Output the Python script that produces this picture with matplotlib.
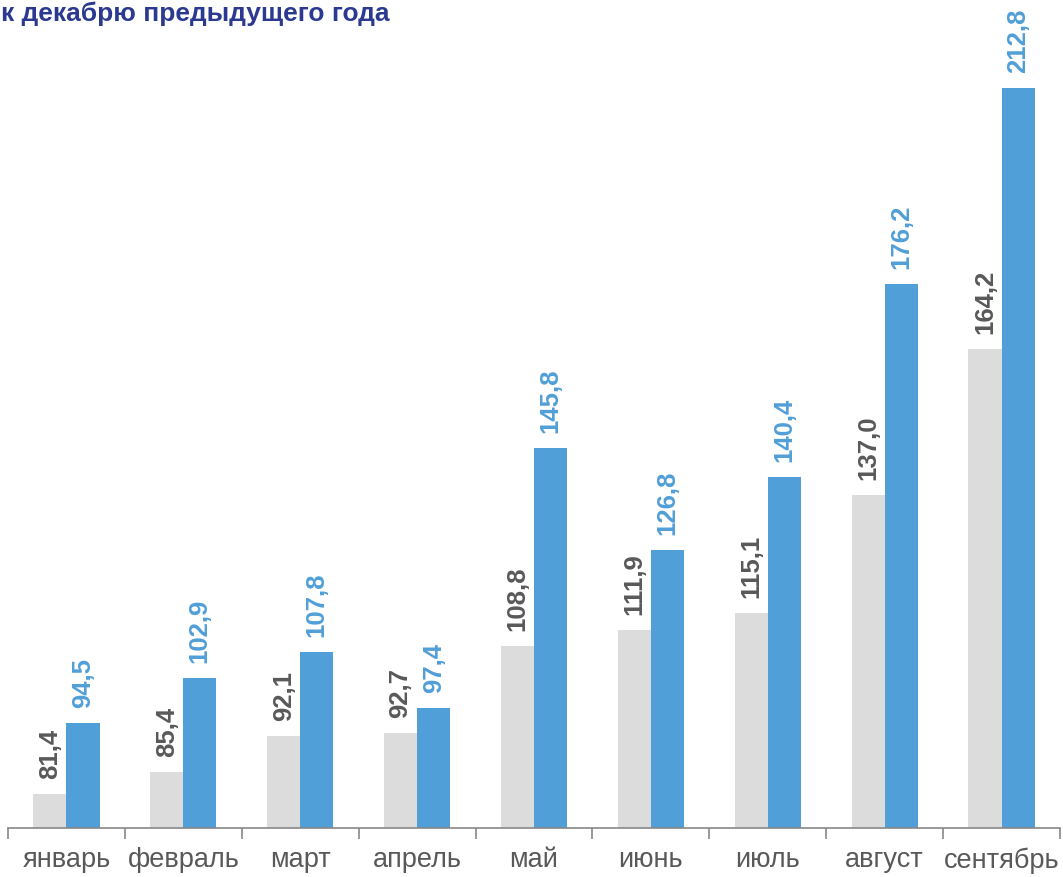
import matplotlib
matplotlib.use("Agg")
import matplotlib.pyplot as plt
import numpy as np

months = ["январь", "февраль", "март", "апрель", "май", "июнь", "июль", "август", "сентябрь"]
prev_year = [81.4, 85.4, 92.1, 92.7, 108.8, 111.9, 115.1, 137.0, 164.2]
curr_year = [94.5, 102.9, 107.8, 97.4, 145.8, 126.8, 140.4, 176.2, 212.8]
title = "к декабрю предыдущего года"

plt.rcParams['font.family'] = ['Liberation Sans', 'DejaVu Sans']

W, H = 1063, 877
fig = plt.figure(figsize=(W/100, H/100), dpi=100)
ax = fig.add_axes([8/W, (H-828)/H, (1060-8)/W, 828/H])

x = np.arange(len(months))
bw = 0.283
gray = "#DCDCDC"
blue = "#519FD8"
ax.bar(x - bw/2, prev_year, bw, color=gray)
ax.bar(x + bw/2, curr_year, bw, color=blue)
ax.set_ylim(75, 229.1)
ax.set_xlim(-0.5, len(months) - 0.5)

def fmt(v):
    return f"{v:.1f}".replace(".", ",")

for xi, v in zip(x, prev_year):
    ax.annotate(fmt(v), (xi - bw/2, v), xytext=(0, 15), textcoords="offset pixels",
                rotation=90, ha="center", va="bottom", fontsize=18.5, fontweight="bold", color="#595959")
for xi, v in zip(x, curr_year):
    ax.annotate(fmt(v), (xi + bw/2, v), xytext=(0, 15), textcoords="offset pixels",
                rotation=90, ha="center", va="bottom", fontsize=18.5, fontweight="bold", color=blue)

for s in ["top", "right", "left"]:
    ax.spines[s].set_visible(False)
ax.spines["bottom"].set_color("#888888")
ax.spines["bottom"].set_linewidth(1.2)
ax.set_yticks([])
ax.set_xticks(np.arange(len(months) + 1) - 0.5, minor=False)
ax.set_xticklabels([])
ax.tick_params(axis="x", which="major", length=8, color="#888888", width=1.2)
ax.set_xticks(x, minor=True)
ax.set_xticklabels(months, minor=True)
ax.tick_params(axis="x", which="minor", length=0, pad=14, labelsize=19.5, labelcolor="#595959")

fig.text(1/W, 1 - 14/H, title, ha="left", va="center", fontsize=19, fontweight="bold", color="#2B3990")

fig.savefig("out.png", dpi=100)
